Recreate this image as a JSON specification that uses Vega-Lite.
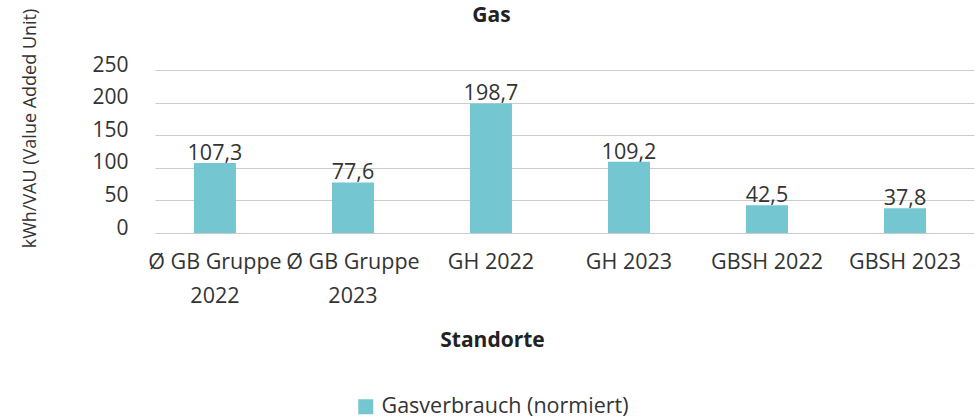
{
  "$schema": "https://vega.github.io/schema/vega-lite/v6.json",
  "autosize": "none",
  "width": 819,
  "height": 163,
  "padding": {"left": 155, "top": 70, "right": 6, "bottom": 187},
  "background": "white",
  "config": {
    "font": "Open Sans",
    "view": {"stroke": null},
    "locale": {"number": {"decimal": ",", "thousands": ".", "grouping": [3], "currency": ["", " €"]}}
  },
  "title": {
    "text": "Gas",
    "fontSize": 21,
    "fontWeight": "bold",
    "color": "#222222",
    "anchor": "middle",
    "frame": "group",
    "dx": -73,
    "dy": 18,
    "offset": 0
  },
  "data": {
    "values": [
      {"standort": "Ø GB Gruppe 2022", "wert": 107.3, "serie": "Gasverbrauch (normiert)"},
      {"standort": "Ø GB Gruppe 2023", "wert": 77.6, "serie": "Gasverbrauch (normiert)"},
      {"standort": "GH 2022", "wert": 198.7, "serie": "Gasverbrauch (normiert)"},
      {"standort": "GH 2023", "wert": 109.2, "serie": "Gasverbrauch (normiert)"},
      {"standort": "GBSH 2022", "wert": 42.5, "serie": "Gasverbrauch (normiert)"},
      {"standort": "GBSH 2023", "wert": 37.8, "serie": "Gasverbrauch (normiert)"}
    ]
  },
  "encoding": {
    "x": {
      "field": "standort",
      "type": "nominal",
      "sort": null,
      "scale": {"paddingInner": 0.6957, "paddingOuter": 0.315, "align": 0.448},
      "axis": {
        "title": "Standorte",
        "titleFontSize": 21,
        "titleFontWeight": "bold",
        "titleColor": "#222222",
        "titleX": 337,
        "titleY": 107,
        "titleBaseline": "middle",
        "labelAngle": 0,
        "labelFontSize": 21.5,
        "labelColor": "#333333",
        "labelPadding": 35,
        "labelLineHeight": 34,
        "labelBaseline": "alphabetic",
        "labelLimit": 300,
        "labelExpr": "length(datum.value) > 12 ? [slice(datum.value, 0, 11), slice(datum.value, 12)] : datum.value",
        "domain": false,
        "ticks": false,
        "grid": false
      }
    },
    "y": {
      "field": "wert",
      "type": "quantitative",
      "scale": {"domain": [0, 250]},
      "axis": {
        "title": "kWh/VAU (Value Added Unit)",
        "titleFontSize": 18,
        "titleFontWeight": "normal",
        "titleColor": "#333333",
        "titleX": -125,
        "titleY": 58,
        "titleAngle": 270,
        "titleBaseline": "middle",
        "titleAlign": "center",
        "values": [0, 50, 100, 150, 200, 250],
        "labelFontSize": 21,
        "labelColor": "#333333",
        "labelPadding": 27,
        "labelBaseline": "alphabetic",
        "labelOffset": 1,
        "domain": false,
        "ticks": false,
        "gridColor": "#cccccc",
        "gridWidth": 1.2
      }
    }
  },
  "layer": [
    {
      "mark": {"type": "bar", "color": "#74C7D0"},
      "encoding": {
        "color": {
          "field": "serie",
          "type": "nominal",
          "scale": {"range": ["#74C7D0"]},
          "legend": {
            "title": null,
            "orient": "none",
            "legendX": 200,
            "legendY": 326,
            "symbolType": "square",
            "symbolSize": 225,
            "symbolStrokeWidth": 0,
            "labelFontSize": 21.5,
            "labelColor": "#333333",
            "labelOffset": 5,
            "labelLimit": 400
          }
        }
      }
    },
    {
      "mark": {"type": "text", "baseline": "alphabetic", "dy": -3, "fontSize": 21.5, "color": "#333333"},
      "encoding": {
        "text": {"field": "wert", "type": "quantitative", "format": ".1f"}
      }
    }
  ]
}
